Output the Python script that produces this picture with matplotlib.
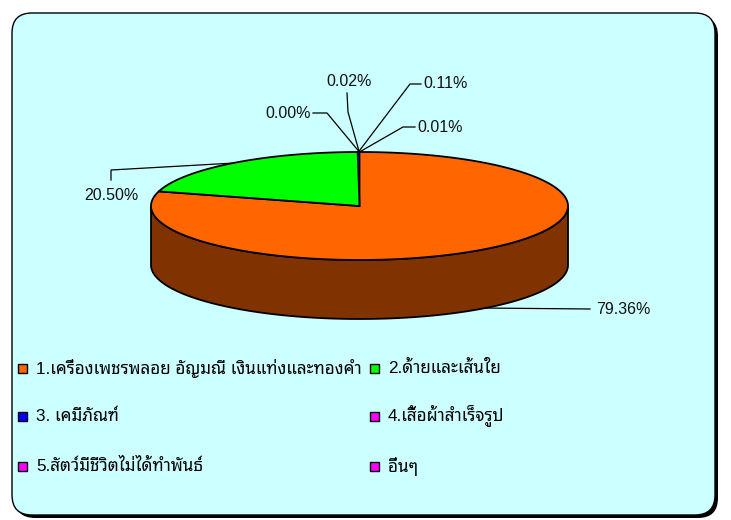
import numpy as np
import matplotlib
matplotlib.use("Agg")
import matplotlib.pyplot as plt
from matplotlib.patches import Polygon, Rectangle, FancyBboxPatch

# data
categories = ["1.เครื่องเพชรพลอย อัญมณี เงินแท่งและทองคำ", "2.ด้ายและเส้นใย",
              "3. เคมีภัณฑ์", "4.เสื้อผ้าสำเร็จรูป",
              "5.สัตว์มีชีวิตไม่ได้ทำพันธ์", "อื่นๆ"]
shares = [79.36, 20.50, 0.11, 0.02, 0.00, 0.01]
top_colors = ["#FF6600", "#00FF00", "#0000FF", "#FF00FF", "#FF00FF", "#FF00FF"]
side_colors = ["#803300", "#008000", "#000080", "#800080", "#800080", "#800080"]

W, H = 731, 520
fig = plt.figure(figsize=(W / 100, H / 100), dpi=100)
ax = fig.add_axes([0, 0, 1, 1])
ax.set_xlim(0, W)
ax.set_ylim(H, 0)
ax.axis("off")

# frame with shadow
ax.add_patch(FancyBboxPatch((15, 16), 703, 502, boxstyle="round,pad=0,rounding_size=20",
                            fc="black", ec="black", lw=0))
ax.add_patch(FancyBboxPatch((12, 13), 703, 502, boxstyle="round,pad=0,rounding_size=20",
                            fc="#CCFFFF", ec="black", lw=1))

cx, cy, rx, ry, depth = 359.5, 206, 208.5, 54, 59
fracs = np.array(shares) / sum(shares)
edges = np.concatenate([[0], np.cumsum(fracs)]) * 360


def pt(a, dy=0):
    r = np.radians(a)
    return cx + rx * np.sin(r), cy - ry * np.cos(r) + dy


# side walls (front half only: 90..270 deg)
for i in range(len(shares)):
    a1, a2 = max(edges[i], 90), min(edges[i + 1], 270)
    if a2 <= a1:
        continue
    t = np.linspace(a1, a2, 200)
    topx, topy = pt(t)
    botx, boty = pt(t[::-1], depth)
    xy = np.column_stack([np.concatenate([topx, botx]), np.concatenate([topy, boty])])
    ax.add_patch(Polygon(xy, closed=True, fc=side_colors[i], ec="black", lw=1.3, zorder=2))

# top face
for i in range(len(shares)):
    a1, a2 = edges[i], edges[i + 1]
    if a2 - a1 <= 0:
        continue
    t = np.linspace(a1, a2, max(3, int((a2 - a1) * 2)))
    x, y = pt(t)
    xy = np.column_stack([np.concatenate([[cx], x]), np.concatenate([[cy], y])])
    lw = 1.3 if a2 - a1 > 1 else 0.4
    ax.add_patch(Polygon(xy, closed=True, fc=top_colors[i], ec="black", lw=lw, zorder=3))

# labels: text position, leader knee, alignment
label_pos = [(596, 309, "left"), (111, 196, "center"), (423, 84, "left"),
             (349, 82, "center"), (311, 113, "right"), (417, 127, "left")]
knees = [[(590, 309)], [(111, 170), (111, 180)], [(410, 84), (421, 84)],
         [(348, 112), (347, 93)], [(327, 113), (313, 113)], [(403, 127), (415, 127)]]
for i in range(len(shares)):
    mid = (edges[i] + edges[i + 1]) / 2
    if 90 < mid < 270:
        sx, sy = pt(mid, depth)
    else:
        sx, sy = pt(mid)
    xs = [sx] + [k[0] for k in knees[i]]
    ys = [sy] + [k[1] for k in knees[i]]
    ax.plot(xs, ys, color="black", lw=0.9, zorder=4)
    tx, ty, ha = label_pos[i]
    ax.text(tx, ty, "%.2f%%" % shares[i], ha=ha, va="center", fontsize=11.5,
            family="Liberation Sans", color="#111111", zorder=5)

# legend
thai_fam = ["Liberation Sans", "Noto Sans Thai Looped", "DejaVu Sans"]
col_x = [18, 370]
row_y = [368, 416, 466]
for i, name in enumerate(categories):
    x0 = col_x[i % 2]
    y0 = row_y[i // 2]
    ax.add_patch(Rectangle((x0, y0 - 4.5), 9, 9, fc=top_colors[i], ec="black", lw=1, zorder=5))
    ax.text(x0 + 18, y0, name, ha="left", va="center", fontsize=12.3,
            family=thai_fam, color="black", zorder=5)

fig.savefig("out.png", dpi=100)
